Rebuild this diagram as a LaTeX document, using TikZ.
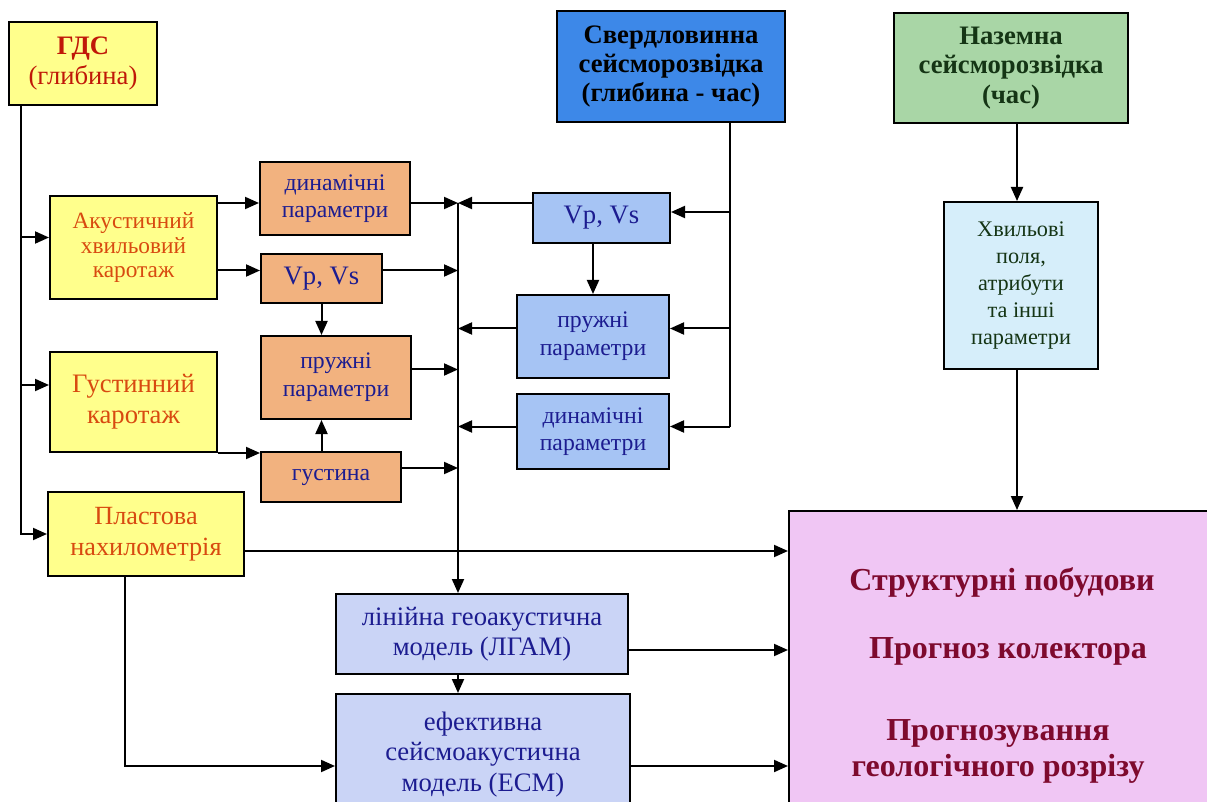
\documentclass[tikz,border=0pt]{standalone}
\usepackage{fontspec}
\setmainfont{Liberation Serif}
\usetikzlibrary{arrows.meta}
\definecolor{yel}{HTML}{FFFF8C}
\definecolor{orn}{HTML}{F2B27F}
\definecolor{blu}{HTML}{3D88E8}
\definecolor{lbl}{HTML}{A6C4F4}
\definecolor{lav}{HTML}{CAD4F6}
\definecolor{grn}{HTML}{A9D6A6}
\definecolor{cya}{HTML}{D6EEFA}
\definecolor{pnk}{HTML}{F0C6F4}
\definecolor{redt}{HTML}{D84A10}
\definecolor{gdst}{HTML}{C01808}
\definecolor{navy}{HTML}{1C1C90}
\definecolor{dgrn}{HTML}{153515}
\definecolor{wine}{HTML}{7E0A2E}
\newcommand\bx[7]{\node[#6, minimum width={(#4-#2)*0.75pt}, minimum height={(#5-#3)*0.75pt}] (#1) at ({(#2+#4)/2},{(#3+#5)/2}) {#7};}
\tikzset{
  box/.style={draw=black, line width=1.5pt, inner sep=1pt, align=center},
  ln/.style={line width=1.5pt},
  arr/.style={ln, -{Triangle[length=10.5pt,width=9pt]}},
  ptext/.style={anchor=base, text=wine, font=\fontsize{24}{28}\selectfont\bfseries}
}
\begin{document}
\begin{tikzpicture}[x=0.75pt,y=-0.75pt]
\clip (0,0) rectangle (1207,802);
\fill[white] (0,0) rectangle (1207,802);
% left column
\bx{gds}{9}{22}{157}{105}{box,fill=yel,text=gdst,font=\fontsize{20}{22.5}\selectfont}{\textbf{ГДС}\\(глибина)}
\bx{ak}{50}{196}{217}{299}{box,fill=yel,text=redt,font=\fontsize{17.5}{18.4}\selectfont}{Акустичний\\хвильовий\\каротаж}
\bx{gk}{50}{352}{217}{452}{box,fill=yel,text=redt,font=\fontsize{20}{23}\selectfont}{Густинний\\каротаж}
\bx{pn}{48}{492}{244}{576}{box,fill=yel,text=redt,font=\fontsize{19.7}{23}\selectfont}{Пластова\\нахилометрія}
% orange column
\bx{od}{260}{162}{410}{235}{box,fill=orn,text=navy,font=\fontsize{17.8}{20}\selectfont}{динамічні\\параметри}
\bx{ov}{261}{254}{382}{303}{box,fill=orn,text=navy,font=\fontsize{20}{22}\selectfont}{Vp, Vs}
\bx{op}{261}{336}{411}{419}{box,fill=orn,text=navy,font=\fontsize{17.8}{21}\selectfont}{пружні\\параметри}
\bx{og}{261}{452}{401}{502}{box,fill=orn,text=navy,font=\fontsize{17.8}{20}\selectfont}{густина}
% borehole column
\bx{sv}{557}{11}{785}{122}{box,fill=blu,text=black,font=\fontsize{20}{22}\selectfont\bfseries}{Свердловинна\\сейсморозвідка\\(глибина - час)}
\bx{bv}{533}{193}{670}{243}{box,fill=lbl,text=navy,font=\fontsize{20}{22}\selectfont}{Vp, Vs}
\bx{bp}{517}{295}{669}{378}{box,fill=lbl,text=navy,font=\fontsize{17.8}{21}\selectfont}{пружні\\параметри}
\bx{bd}{517}{394}{669}{469}{box,fill=lbl,text=navy,font=\fontsize{17.8}{20}\selectfont}{динамічні\\параметри}
% models
\bx{lg}{336}{594}{628}{674}{box,fill=lav,text=navy,font=\fontsize{20}{22.5}\selectfont}{лінійна геоакустична\\модель (ЛГАМ)}
\bx{es}{336}{694}{630}{815}{box,fill=lav,text=navy,font=\fontsize{20}{23}\selectfont}{ефективна\\сейсмоакустична\\модель (ЕСМ)}
% surface seismic
\bx{nz}{894}{13}{1128}{123}{box,fill=grn,text=dgrn,font=\fontsize{20}{22}\selectfont\bfseries}{Наземна\\сейсморозвідка\\(час)}
\bx{hv}{944}{202}{1098}{369}{box,fill=cya,text=dgrn,font=\fontsize{16.7}{20.3}\selectfont}{Хвильові\\поля,\\атрибути\\та інші\\параметри}
% result box
\bx{pk}{789}{511}{1220}{815}{box,fill=pnk}{}
\node[ptext] (t1) at (1002,590) {Структурні побудови};
\node[ptext] (t2) at (1008,658) {Прогноз колектора};
\node[ptext] (t3) at (998,740) {Прогнозування};
\node[ptext] (t4) at (998,776) {геологічного розрізу};
% helper coordinates
\coordinate (trk) at ([xshift=9.75pt]gds.south west);
\coordinate (akin) at ([yshift=7.5pt]ak.west);
\coordinate (gkin) at ([yshift=12.75pt]gk.west);
\coordinate (a1) at ([yshift=-6pt]ak.north east);
\coordinate (a2) at ([yshift=6pt]ov.west);
\coordinate (a3) at ([yshift=6pt]op.east);
\coordinate (a4) at ([yshift=6.75pt]og.east);
\coordinate (bus) at (458,203);
\coordinate (st) at ([xshift=-42pt]sv.south east);
\coordinate (b0) at ([yshift=11.25pt]bv.west);
\coordinate (b1) at ([yshift=4.5pt]bv.east);
\coordinate (b2) at ([yshift=6pt]bp.east);
\coordinate (b3) at ([yshift=3.75pt]bd.east);
\coordinate (p1) at ([yshift=-12.75pt]pn.east);
\coordinate (p2) at ([xshift=-15.75pt]pn.south);
\coordinate (e1) at ([yshift=-8.625pt]es.west);
\coordinate (l1) at ([yshift=-12pt]lg.east);
\coordinate (hx) at ([xshift=4.5pt]nz.south);
% GDS trunk
\draw[arr] (trk) |- (pn.west);
\draw[arr] (trk |- akin) -- (akin);
\draw[arr] (trk |- gkin) -- (gkin);
% acoustic log
\draw[arr] (a1) -- (od.west |- a1);
\draw[arr] (ak.east |- a2) -- (a2);
\draw[arr] (od.east |- a1) -- (bus |- a1);
\draw[arr] (ov.east |- a2) -- (bus |- a2);
\draw[arr] (ov.south) -- (op.north -| ov.south);
\draw[arr] (a3) -- (bus |- a3);
\draw[arr] (og.north -| ov.south) -- (op.south -| ov.south);
\draw[arr] (gk.south east) -- (gk.south east -| og.west);
\draw[arr] (a4) -- (bus |- a4);
% bus
\draw[arr] (bus) -- (bus |- lg.north);
% borehole seismic
\draw[ln] (st) -- (st |- b3);
\draw[arr] (st |- b1) -- (b1);
\draw[arr] (st |- b2) -- (b2);
\draw[arr] (st |- b3) -- (b3);
\draw[arr] (b0) -- (bus |- b0);
\draw[arr] (bv.south -| bp.north) -- (bp.north);
\draw[arr] (bp.west |- b2) -- (bus |- b2);
\draw[arr] (bd.west |- b3) -- (bus |- b3);
% dip meter
\draw[arr] (p1) -- (p1 -| pk.west);
\draw[arr] (p2) |- (e1);
% models
\draw[arr] (bus |- lg.south) -- (bus |- es.north);
\draw[arr] (l1) -- (l1 -| pk.west);
\draw[arr] (es.east |- e1) -- (pk.west |- e1);
% surface seismic
\draw[arr] (hx) -- (hx |- hv.north);
\draw[arr] (hx |- hv.south) -- (hx |- pk.north);
\end{tikzpicture}
\end{document}
